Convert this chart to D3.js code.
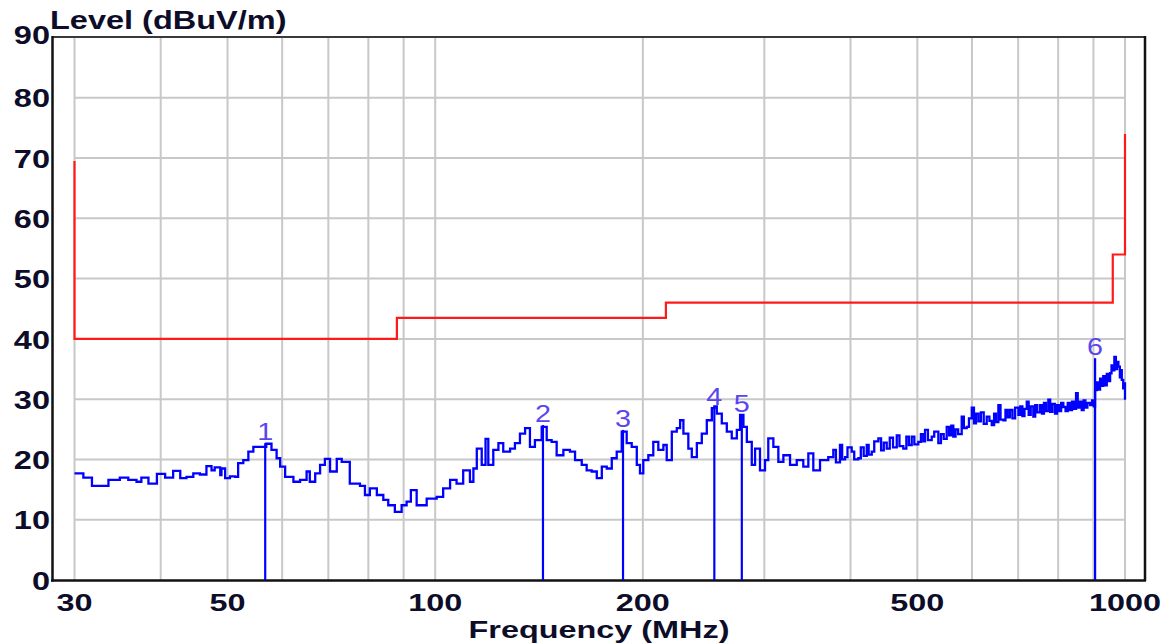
<!DOCTYPE html>
<html>
<head>
<meta charset="utf-8">
<script src="https://cdn.jsdelivr.net/npm/d3@7"></script>
<style>
html,body{margin:0;padding:0;background:#fff;}
svg{display:block;}
</style>
</head>
<body>
<svg id="chart" width="1174" height="644"></svg>
<script>
// ---------------- DATA ----------------
const yTicks = [0,10,20,30,40,50,60,70,80,90];
const xTickLabels = [30,50,100,200,500,1000];
const xGrid = [30,40,50,60,70,80,90,100,200,300,400,500,600,700,800,900,1000];

const limitFreq  = [30, 30, 88, 88, 216, 216, 960, 960, 1000, 1000];
const limitLevel = [69.5, 40, 40, 43.5, 43.5, 46, 46, 54, 54, 74];

const markerNo    = ["1","2","3","4","5","6"];
const markerFreq  = [56.7, 143.3, 187.2, 253.9, 278.3, 905];
const markerLevel = [22.7, 25.7, 24.9, 28.5, 27.4, 36.8];

const traceFreq = [
 30,30.9,31.8,33.0,33.6,34.9,35.9,36.9,37.5,38.4,39.5,40.6,41.7,42.7,43.6,44.6,45.6,46.6,47.4,47.9,
 48.8,49.0,49.6,50.4,51.3,51.8,52.7,53.6,54.5,55.7,56.9,57.9,58.9,59.6,60.6,62.3,63.7,65.1,65.8,67.0,
 68.1,69.2,70.4,72.0,73.2,75.2,77.8,79.1,80.4,82.3,84.1,85.5,87.4,89.4,90.9,92.2,94.0,97.2,100.5,102.7,
 105.1,107.4,109.8,112.3,113.6,114.9,116.8,118.3,119.4,121.4,123.5,125.5,128.4,130.5,132.7,135.0,137.2,139.5,142.7,145.1,
 147.5,150.0,153.4,156.8,159.5,163.1,165.8,168.6,171.5,174.4,177.3,180.3,183.3,186.4,189.5,192.7,196.0,198.1,200.3,203.7,
 207.1,210.6,214.2,216.6,220.3,224.0,226.5,229.0,232.8,235.5,239.5,243.5,247.6,251.8,253.9,256.0,260.3,264.7,269.1,273.7,
 276.7,279.8,283.0,287.7,290.9,295.7,300.7,304.0,309.2,314.4,319.7,326.9,334.3,341.7,347.5,353.3,361.3,371.4,377.7,381,
 386.2,389,392.8,396,401.6,405,410.6,414,418,422.3,425,429.4,433,439.0,443,447,451.4,456,461,466.8,
 471,477.1,482,486,490.7,495,501.6,506,510,513.0,518,524.6,529,536.3,541,546,551.5,556,560,563.8,
 568,573,579.8,584,589.6,594,599.6,604,608,613.0,618,624,630.3,636,641.0,646,650,655.3,660,666.3,
 671,676,681.3,687,693,700.6,705,710,715,720.4,725,730,736.4,741,746,753.1,758,763,768,774.2,
 779,785,791.7,797,803,808,814.0,820,826,832.4,838,843,849.3,854,859,865.5,871,876,882,890.0,
 896,901,904.9,910,915,920.2,925,930,935.7,941,946,951.5,956,961,965.1,970,974,978.2,983,986,
 989.3,994,997,1000
];
const traceLevel = [
 17.7,17.0,15.6,15.6,16.6,17.0,16.6,16.3,17.0,16.0,17.6,17.0,18.1,16.9,17.1,17.7,17.5,18.9,18.2,18.7,
 17.4,18.5,16.9,17.2,17.1,19.4,19.9,21.3,22.1,22.1,22.6,21.6,20.2,18.8,17.1,16.3,16.6,18.0,16.3,17.7,
 19.1,20.1,18.0,20.1,19.6,16.0,15.6,14.1,15.2,14.1,13.3,12.4,11.3,12.4,13.0,14.9,12.4,13.5,13.8,15.2,
 16.6,16.0,18.2,16.3,18.5,21.8,19.1,23.4,19.1,21.6,22.7,21.3,21.8,22.7,24.3,25.2,22.1,23.2,25.4,23.2,
 22.9,20.7,21.6,21.3,19.9,19.1,18.2,18.0,16.9,18.8,18.5,20.2,21.3,24.6,22.7,22.1,19.1,17.7,19.9,20.7,
 22.9,21.6,22.4,19.9,24.6,25.2,26.5,24.3,21.8,20.4,22.7,24.3,26.5,28.5,28.8,27.6,26.0,24.6,23.5,24.9,
 27.4,25.4,22.9,19.1,21.8,18.2,19.9,23.5,22.1,19.6,20.7,19.1,19.9,18.8,21.0,18.2,19.9,20.4,21.6,19.5,
 22.4,20.0,20.4,22.0,21.3,20.0,20.2,22.0,20.6,22.4,20.8,21.3,23.0,23.5,21.5,22.8,21.8,23.6,22.0,24.0,
 22.2,21.8,23.8,22.4,23.8,22.5,22.9,24.2,23.0,24.9,23.2,23.8,24.6,22.7,24.2,23.4,25.4,24.0,25.6,23.8,
 25.0,24.2,27.1,25.2,25.4,26.8,28.6,26.0,27.6,26.3,27.8,25.9,27.1,26.4,25.7,27.6,26.2,29.0,26.6,26.5,
 28.2,27.0,28.2,26.8,28.6,27.4,28.8,27.2,28.4,29.6,27.4,28.8,27.1,29.0,27.8,29.0,27.6,29.4,28.0,29.9,
 27.9,29.2,27.6,29.0,28.0,29.4,28.7,28.0,29.4,28.2,29.6,28.4,31.0,28.6,29.6,28.2,29.8,28.6,29.4,29.0,
 29.8,28.8,31.5,32.8,31.6,33.4,32.2,33.8,32.3,34.2,33.0,34.3,35.6,34.8,37.0,35.0,36.2,35.4,33.6,34.8,
 33.2,31.8,32.6,29.9
];

// ---------------- CHART ----------------
const svg = d3.select("#chart");
const FONT = "'Liberation Sans', Arial, sans-serif";
const SX = 1.3; // horizontal stretch of the reference lettering

const x = d3.scaleLog().domain([30,1000]).range([74.5,1125]);
const y = d3.scaleLinear().domain([0,90]).range([580,37.5]);

// grid
const grid = svg.append("g").attr("stroke","#c8c8c8").attr("stroke-width",2);
grid.selectAll("line.v").data(xGrid).join("line").attr("class","v")
  .attr("x1",d=>x(d)).attr("x2",d=>x(d)).attr("y1",y(90)).attr("y2",y(0));
grid.selectAll("line.h").data(yTicks.filter(d=>d>0 && d<90)).join("line").attr("class","h")
  .attr("x1",x(30)).attr("x2",x(1000)).attr("y1",d=>y(d)).attr("y2",d=>y(d));

// frame
svg.append("line").attr("x1",52).attr("x2",1146).attr("y1",37).attr("y2",37).attr("stroke","#3a3a3a").attr("stroke-width",2);
svg.append("line").attr("x1",1145).attr("x2",1145).attr("y1",36).attr("y2",581).attr("stroke","#111").attr("stroke-width",2.5);
svg.append("line").attr("x1",52.5).attr("x2",52.5).attr("y1",36).attr("y2",581.5).attr("stroke","#111").attr("stroke-width",2.5);
svg.append("line").attr("x1",51).attr("x2",1146).attr("y1",580.5).attr("y2",580.5).attr("stroke","#111").attr("stroke-width",2.5);

// stretched text helper
function stext(g, tx, ty, str, opts) {
  const t = g.append("text")
    .attr("transform", `translate(${tx},${ty}) scale(${opts.sx||SX},1)`)
    .attr("font-family", FONT)
    .attr("font-size", opts.size)
    .attr("font-weight", opts.weight||"bold")
    .attr("fill", opts.fill||"#111122")
    .attr("text-anchor", opts.anchor||"start")
    .text(str);
  if (opts.baseline) t.attr("dominant-baseline", opts.baseline);
  return t;
}

// y tick labels
const yl = svg.append("g");
yTicks.forEach(v => stext(yl, 50, y(v) + (v===90 ? -2 : 1), String(v), {size:25, anchor:"end", baseline:"central", fill:"#0d0d2a"}));
// x tick labels
const xl = svg.append("g");
xTickLabels.forEach(v => stext(xl, x(v), 610.5, String(v), {size:24, anchor:"middle", fill:"#0d0d2a", sx:1.35}));

// titles
stext(svg, 50, 29, "Level (dBuV/m)", {size:25, fill:"#0d0d2a"});
stext(svg, 599, 637.5, "Frequency (MHz)", {size:24, anchor:"middle", fill:"#0d0d2a", sx:1.35});

// limit line
const limitPts = limitFreq.map((f,i)=>[f, limitLevel[i]]);
svg.append("path")
  .attr("d", d3.line().x(d=>x(d[0])).y(d=>y(d[1]))(limitPts))
  .attr("fill","none").attr("stroke","#ff1a1a").attr("stroke-width",2.2);

// trace
const tracePts = traceFreq.map((f,i)=>[f, traceLevel[i]]);
svg.append("path")
  .attr("d", d3.line().x(d=>x(d[0])).y(d=>y(d[1])).curve(d3.curveStepAfter)(tracePts))
  .attr("fill","none").attr("stroke","#0000ff").attr("stroke-width",2.3).attr("stroke-linejoin","miter");

// markers
const mk = svg.append("g");
markerFreq.forEach((f,i)=>{
  mk.append("line").attr("x1",x(f)).attr("x2",x(f)).attr("y1",y(0)).attr("y2",y(markerLevel[i]))
    .attr("stroke","#0000ff").attr("stroke-width",2.2);
  stext(mk, x(f), y(markerLevel[i]) - 3, markerNo[i], {size:23, weight:"normal", anchor:"middle", fill:"#5a45ee", sx:1.25});
});
</script>
</body>
</html>
